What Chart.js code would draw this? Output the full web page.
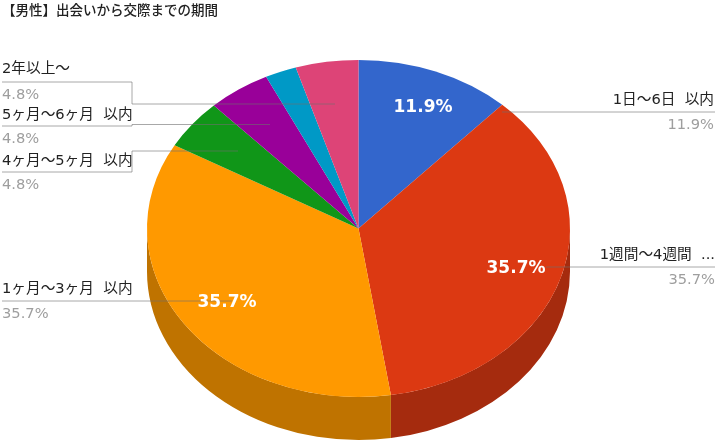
<!DOCTYPE html>
<html><head><meta charset="utf-8">
<style>html,body{margin:0;padding:0;background:#fff}canvas{display:block}</style>
<script src="https://cdn.jsdelivr.net/npm/chart.js@4"></script>
</head><body><canvas id="c" width="720" height="443"></canvas>
<script>
const chartTitle = '【男性】出会いから交際までの期間';
const categories = ['1日〜6日  以内','1週間〜4週間  ...','1ヶ月〜3ヶ月  以内','4ヶ月〜5ヶ月  以内','5ヶ月〜6ヶ月  以内','','2年以上〜'];
const values = [11.9,35.7,35.7,4.8,4.8,2.4,4.8];
const topColors = ['#3366cc','#dc3912','#ff9900','#109618','#990099','#0099c6','#dd4477'];
const sideColors = ['#264d99','#a52b0e','#bf7300','#0c7012','#730073','#007394','#a63359'];

const FONT = '"DejaVu Sans","Noto Sans CJK JP",sans-serif';
const center = {x:358.5, y:228.5}, squash = 0.797, depth = 43;
const pieLabels = {0:[423,108],1:[516,269],2:[227,303]};
const callouts = {
  0:{x:714,align:'right',ny:100,vy:125,line:[[715,112],[502,112]]},
  1:{x:715,align:'right',ny:255,vy:280,line:[[715,267],[546,267]]},
  2:{x:2,align:'left',ny:289,vy:314,line:[[2,301],[232,301]]},
  3:{x:2,align:'left',ny:161,vy:185,line:[[2,172],[132,172],[132,151],[238,151]]},
  4:{x:2,align:'left',ny:115,vy:139,line:[[2,126],[132,126],[132,124.5],[270,124.5]]},
  6:{x:2,align:'left',ny:69,vy:95,line:[[2,82],[132,82],[132,104],[335,104]]}
};

const pie3d = {
  id:'pie3d',
  beforeDatasetsDraw(chart){
    const ctx = chart.ctx, arcs = chart.getDatasetMeta(0).data;
    const cx0 = arcs[0].x, cy0 = arcs[0].y, r = arcs[0].outerRadius;
    const rx = r, ry = r*squash;
    arcs.forEach((a,i)=>{
      const s = Math.max(a.startAngle,0), e = Math.min(a.endAngle,Math.PI);
      if(e<=s) return;
      ctx.beginPath();
      ctx.ellipse(center.x,center.y,rx,ry,0,s,e);
      ctx.ellipse(center.x,center.y+depth,rx,ry,0,e,s,true);
      ctx.closePath();
      ctx.fillStyle = sideColors[i];
      ctx.fill();
    });
    ctx.save();
    ctx.translate(center.x,center.y);
    ctx.scale(1,squash);
    ctx.translate(-cx0,-cy0);
  },
  afterDatasetsDraw(chart){
    const ctx = chart.ctx;
    ctx.restore();
    ctx.save();
    ctx.textBaseline='middle';
    ctx.font = '500 13.5px '+FONT;
    ctx.fillStyle='#222';
    ctx.textAlign='left';
    ctx.fillText(chartTitle,2,11);
    Object.keys(callouts).forEach(k=>{
      const c = callouts[k];
      ctx.strokeStyle='rgba(110,110,110,0.6)';
      ctx.lineWidth=1;
      ctx.beginPath();
      c.line.forEach((p,i)=>{ i?ctx.lineTo(p[0],p[1]):ctx.moveTo(p[0],p[1]); });
      ctx.stroke();
      ctx.textAlign=c.align;
      ctx.font='14.67px '+FONT;
      ctx.fillStyle='#222';
      ctx.fillText(categories[k],c.x,c.ny);
      ctx.fillStyle='#9e9e9e';
      ctx.fillText(values[k].toFixed(1)+'%',c.x,c.vy);
    });
    ctx.textAlign='center';
    ctx.font='bold 17px '+FONT;
    ctx.fillStyle='#fff';
    Object.keys(pieLabels).forEach(k=>{
      ctx.fillText(values[k].toFixed(1)+'%',pieLabels[k][0],pieLabels[k][1]);
    });
    ctx.restore();
  }
};

new Chart(document.getElementById('c'),{
  type:'pie',
  data:{labels:categories,datasets:[{data:values,backgroundColor:topColors,borderWidth:0,clip:false}]},
  options:{
    responsive:false,animation:false,devicePixelRatio:1,
    layout:{padding:{top:10,bottom:10,left:0,right:0}},
    plugins:{legend:{display:false},tooltip:{enabled:false},title:{display:false}}
  },
  plugins:[pie3d]
});
</script></body></html>
